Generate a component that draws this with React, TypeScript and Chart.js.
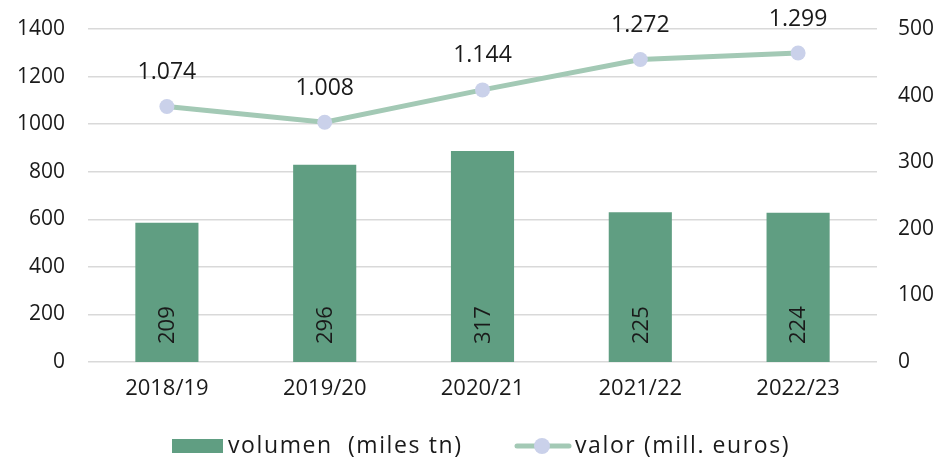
import React, { useEffect, useRef } from "react";
import { Chart, registerables } from "chart.js";

Chart.register(...registerables);

const categories = ["2018/19", "2019/20", "2020/21", "2021/22", "2022/23"];
const volumen = [209, 296, 317, 225, 224];
const valor = [1074, 1008, 1144, 1272, 1299];
const volumenLabel = "volumen  (miles tn)";
const valorLabel = "valor (mill. euros)";

const FONT = "'Open Sans', Lato, sans-serif";
const BAR_COLOR = "#609e82";
const LINE_COLOR = "#a3c9b5";
const POINT_COLOR = "#cad1ea";
const TEXT_COLOR = "#1a1a1a";

const fmt = (v: number) => v.toLocaleString("de-DE");

const labelsPlugin = {
  id: "customLabels",
  afterDatasetsDraw(chart: any) {
    const ctx = chart.ctx;
    ctx.save();
    ctx.fillStyle = TEXT_COLOR;
    const barMeta = chart.getDatasetMeta(0);
    ctx.font = `22px ${FONT}`;
    barMeta.data.forEach((bar: any, i: number) => {
      ctx.save();
      ctx.translate(bar.x, bar.base - 18);
      ctx.rotate(-Math.PI / 2);
      ctx.textAlign = "left";
      ctx.textBaseline = "middle";
      ctx.fillText(String(volumen[i]), 0, 1);
      ctx.restore();
    });
    const lineMeta = chart.getDatasetMeta(1);
    ctx.font = `23px ${FONT}`;
    ctx.textAlign = "center";
    ctx.textBaseline = "middle";
    lineMeta.data.forEach((pt: any, i: number) => {
      ctx.fillText(fmt(valor[i]), pt.x, pt.y - 34);
    });
    ctx.restore();
  },
  afterDraw(chart: any) {
    const ctx = chart.ctx;
    ctx.save();
    const y = 446;
    ctx.fillStyle = BAR_COLOR;
    ctx.fillRect(172, y - 7, 51, 14);
    ctx.font = `23px ${FONT}`;
    (ctx as any).letterSpacing = "1.6px";
    ctx.fillStyle = TEXT_COLOR;
    ctx.textAlign = "left";
    ctx.textBaseline = "middle";
    ctx.fillText(volumenLabel, 228, y);
    ctx.strokeStyle = LINE_COLOR;
    ctx.lineWidth = 5;
    ctx.lineCap = "round";
    ctx.beginPath();
    ctx.moveTo(517, y);
    ctx.lineTo(569, y);
    ctx.stroke();
    ctx.fillStyle = POINT_COLOR;
    ctx.beginPath();
    ctx.arc(542, y, 8, 0, Math.PI * 2);
    ctx.fill();
    ctx.fillStyle = TEXT_COLOR;
    ctx.fillText(valorLabel, 575, y);
    ctx.restore();
  },
};

export default function App() {
  const ref = useRef<HTMLCanvasElement>(null);
  useEffect(() => {
    if (!ref.current) return;
    const chart = new Chart(ref.current, {
      type: "bar",
      data: {
        labels: categories,
        datasets: [
          {
            type: "bar",
            label: volumenLabel,
            data: volumen,
            backgroundColor: BAR_COLOR,
            yAxisID: "y1",
            barPercentage: 0.4,
            categoryPercentage: 1,
            order: 1,
          },
          {
            type: "line",
            label: valorLabel,
            data: valor,
            borderColor: LINE_COLOR,
            borderWidth: 5,
            pointRadius: 7.5,
            pointBackgroundColor: POINT_COLOR,
            pointBorderWidth: 0,
            pointBorderColor: POINT_COLOR,
            yAxisID: "y",
            order: 0,
            tension: 0,
          },
        ],
      },
      options: {
        animation: false,
        responsive: false,
        maintainAspectRatio: false,
        layout: { padding: { top: 29, left: 0, right: 0, bottom: 0 } },
        plugins: {
          legend: { display: false },
          tooltip: { enabled: false },
        },
        scales: {
          x: {
            grid: { display: false, drawTicks: false },
            border: { display: false },
            ticks: {
              color: TEXT_COLOR,
              font: { family: FONT, size: 22 },
              padding: 14,
            },
            afterFit(scale: any) {
              scale.height = 97;
            },
          },
          y: {
            position: "left",
            min: 0,
            max: 1400,
            ticks: {
              stepSize: 200,
              color: TEXT_COLOR,
              font: { family: FONT, size: 21 },
              padding: 23,
              callback: (v: any) => String(v),
            },
            grid: { color: "#d9d9d9", lineWidth: 1.5, drawTicks: false },
            border: { display: false },
            afterFit(scale: any) {
              scale.width = 88;
              scale.paddingTop = 0;
              scale.paddingBottom = 0;
            },
          },
          y1: {
            position: "right",
            min: 0,
            max: 500,
            ticks: {
              stepSize: 100,
              color: TEXT_COLOR,
              font: { family: FONT, size: 21 },
              padding: 21,
              callback: (v: any) => String(v),
            },
            grid: { display: false, drawTicks: false },
            border: { display: false },
            afterFit(scale: any) {
              scale.width = 65;
              scale.paddingTop = 0;
              scale.paddingBottom = 0;
            },
          },
        },
      },
      plugins: [labelsPlugin],
    });
    return () => chart.destroy();
  }, []);
  return (
    <div style={{ position: "fixed", left: 0, top: 0, width: 942, height: 459, background: "#fff" }}>
      <canvas ref={ref} width={942} height={459} style={{ width: 942, height: 459 }} />
    </div>
  );
}
